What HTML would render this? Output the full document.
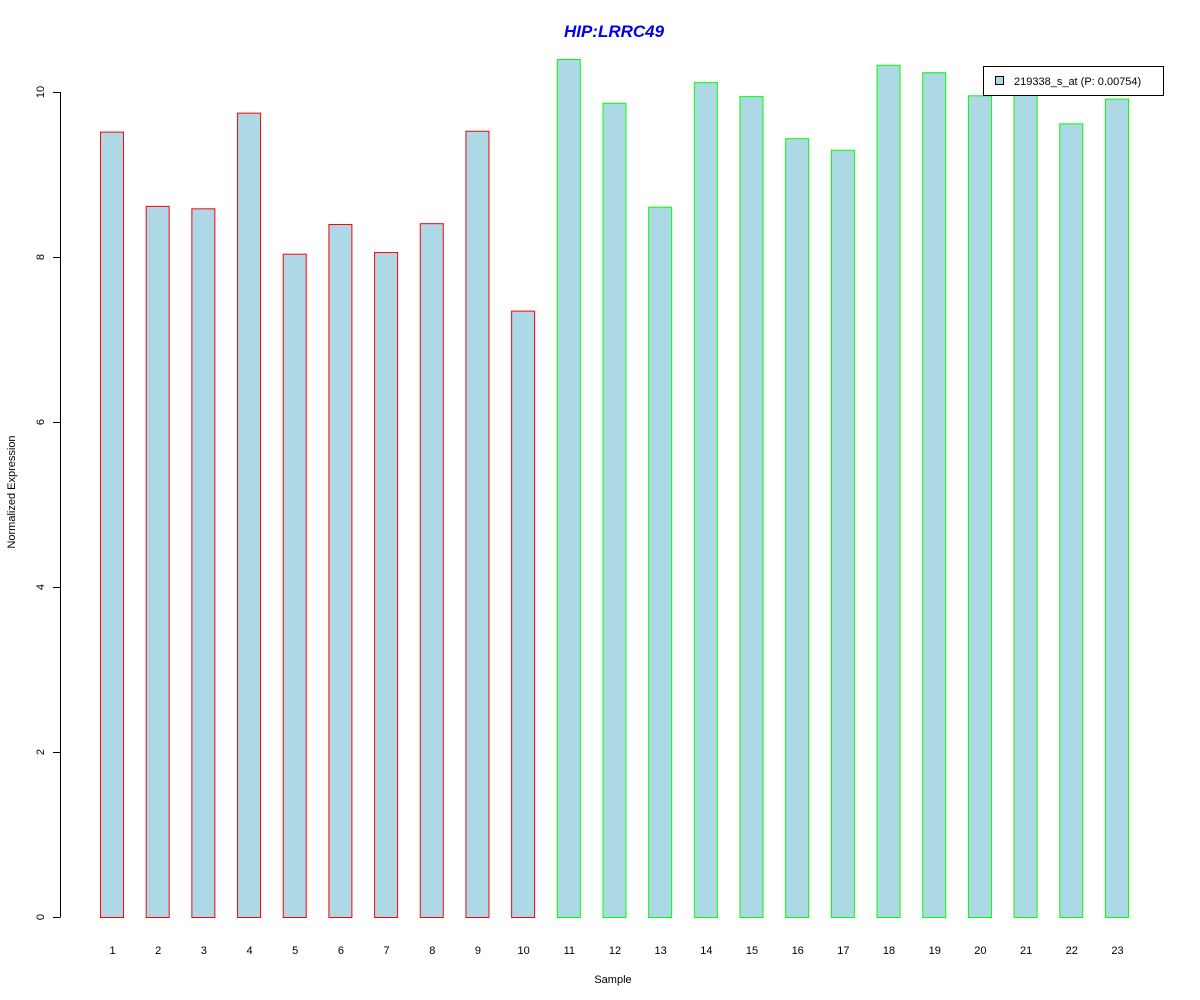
<!DOCTYPE html>
<html><head><meta charset="utf-8"><style>
body{margin:0;background:#fff;}
svg{display:block;font-family:"Liberation Sans",Arial,sans-serif;}
</style></head><body>
<svg id="chart" width="1200" height="1000">
<text x="614" y="37" text-anchor="middle" font-size="17" font-weight="bold" font-style="italic" fill="#0000ee">HIP:LRRC49</text>
<text transform="translate(15,492) rotate(-90)" text-anchor="middle" font-size="11">Normalized Expression</text>
<text x="613" y="983" text-anchor="middle" font-size="11">Sample</text>
<g id="yaxis"></g>
<g id="bars"></g>
<g id="xlabels"></g>
<g>
<rect x="983.5" y="66.5" width="180" height="29" fill="#fff" stroke="#000"/>
<rect x="995.5" y="76.5" width="8" height="8" fill="#add8e6" stroke="#000"/>
<text x="1014" y="85" font-size="11">219338_s_at (P: 0.00754)</text>
</g>
</svg>
<script>
const categories=["1","2","3","4","5","6","7","8","9","10","11","12","13","14","15","16","17","18","19","20","21","22","23"];
const values=[9.52,8.62,8.59,9.75,8.04,8.40,8.06,8.41,9.53,7.35,10.40,9.87,8.61,10.12,9.95,9.44,9.30,10.33,10.24,9.96,9.98,9.62,9.92];
const groups=["r","r","r","r","r","r","r","r","r","r","g","g","g","g","g","g","g","g","g","g","g","g","g"];
const yTicks=[0,2,4,6,8,10];
const NS="http://www.w3.org/2000/svg";
function y(v){return 917-v*82.5;}
function x(i){return 100+i*45.68;}
const bw=23;
const ya=document.getElementById('yaxis');
const l=document.createElementNS(NS,'line');
l.setAttribute('x1',60.5);l.setAttribute('x2',60.5);l.setAttribute('y1',y(0));l.setAttribute('y2',y(10));l.setAttribute('stroke','#000');


ya.appendChild(l);
yTicks.forEach(t=>{
 const k=document.createElementNS(NS,'line');
 k.setAttribute('x1',53);k.setAttribute('x2',60.5);k.setAttribute('y1',y(t)+0.5);k.setAttribute('y2',y(t)+0.5);k.setAttribute('stroke','#000');
 
 
 ya.appendChild(k);
 const tx=document.createElementNS(NS,'text');
 tx.setAttribute('transform','translate(44,'+y(t)+') rotate(-90)');
 tx.setAttribute('text-anchor','middle');tx.setAttribute('font-size','11');
 tx.textContent=t;
 
 
 ya.appendChild(tx);
});
const bg=document.getElementById('bars'),xl=document.getElementById('xlabels');
values.forEach((v,i)=>{
 const r=document.createElementNS(NS,'rect');
 r.setAttribute('x',x(i)+0.5);r.setAttribute('y',y(v)+0.5);r.setAttribute('width',bw);r.setAttribute('height',y(0)-y(v));
 r.setAttribute('fill','#add8e6');r.setAttribute('stroke',groups[i]==='r'?'#ff0000':'#00ff00');
 
 
 bg.appendChild(r);
 const t=document.createElementNS(NS,'text');
 t.setAttribute('x',x(i)+bw/2+1);t.setAttribute('y',954);t.setAttribute('text-anchor','middle');t.setAttribute('font-size','11');
 t.textContent=categories[i];
 
 
 xl.appendChild(t);
});
</script>
</body></html>
